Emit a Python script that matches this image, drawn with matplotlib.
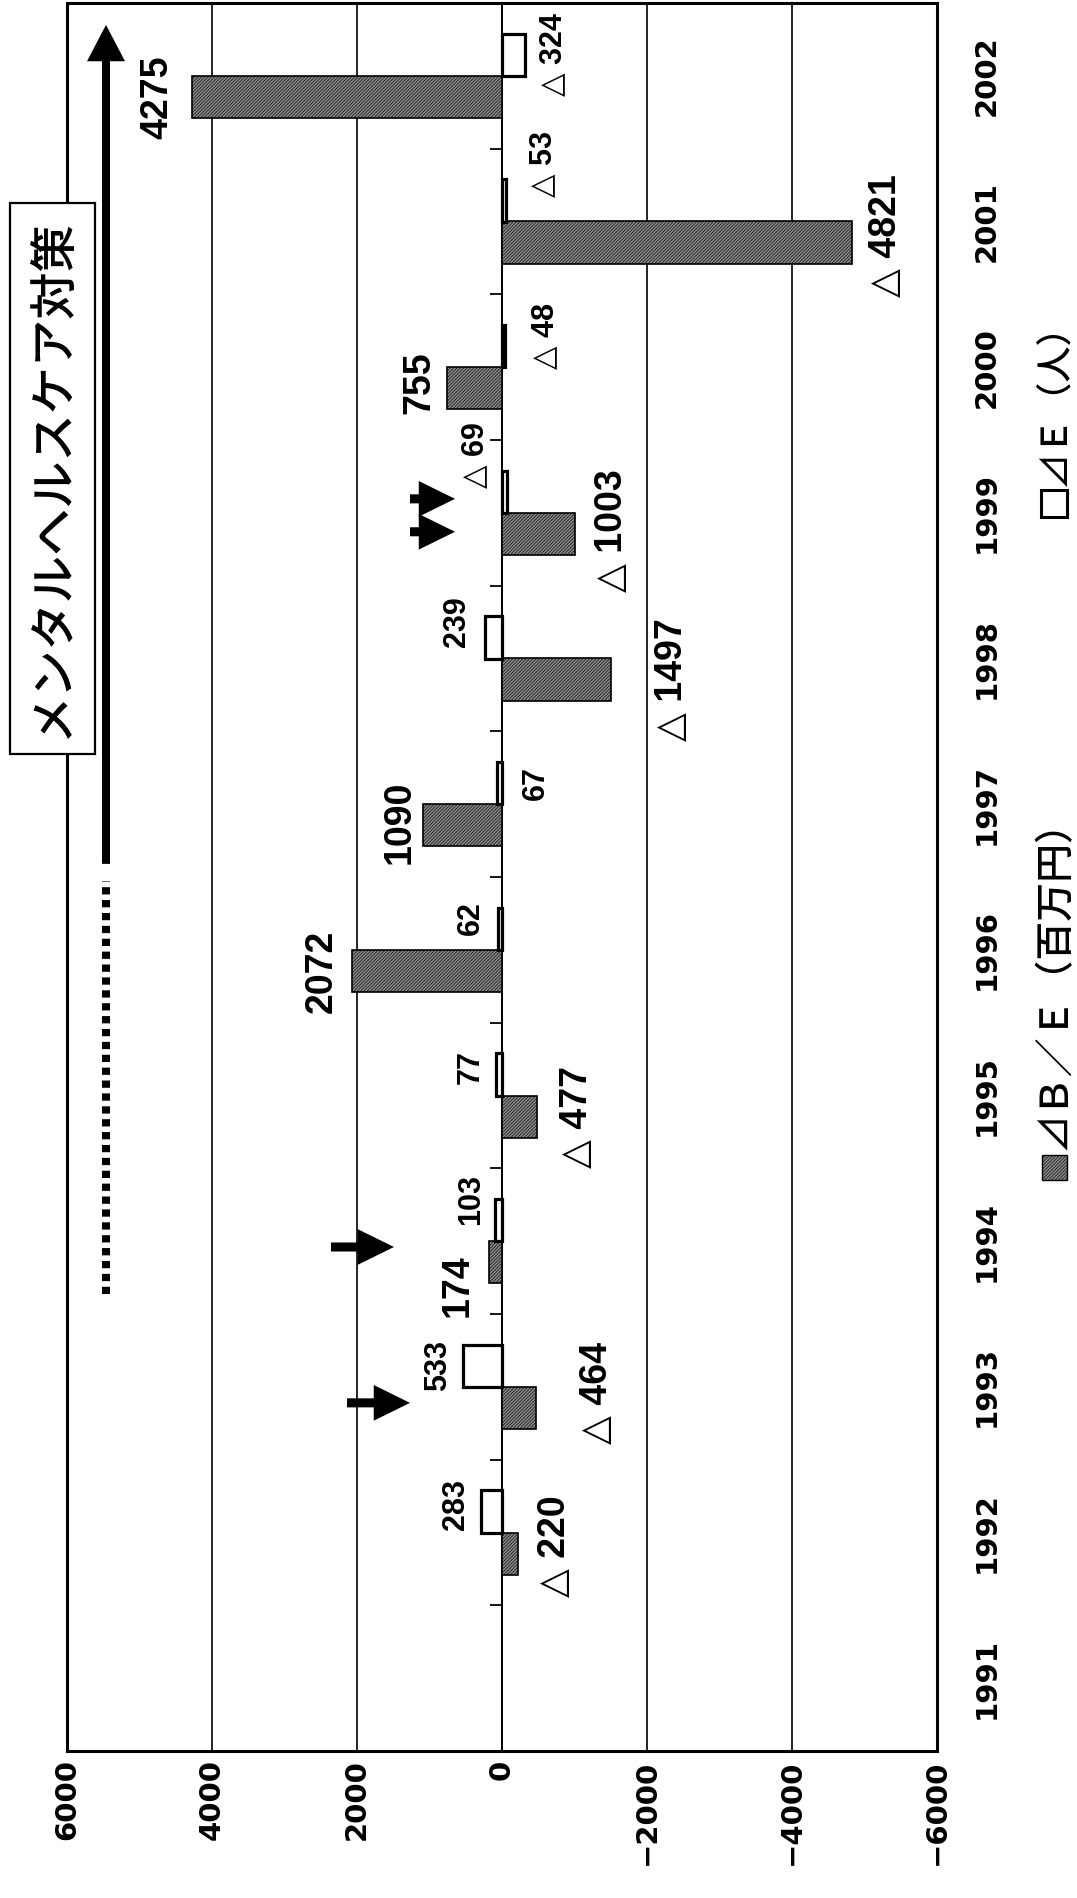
import numpy as np
import matplotlib
matplotlib.use("Agg")
import matplotlib.pyplot as plt
from matplotlib.patches import FancyArrow, Rectangle

# yearly change of B/E (million yen) and of E (persons); 1991 has no bars
years = [1991, 1992, 1993, 1994, 1995, 1996, 1997, 1998, 1999, 2000, 2001, 2002]
be_values = [-220, -464, 174, -477, 2072, 1090, -1497, -1003, 755, -4821, 4275]
e_values = [283, 533, 103, 77, 62, 67, 239, -69, -48, -53, -324]
value_ticks = [6000, 4000, 2000, 0, -2000, -4000, -6000]
legend_labels = ["⊿Ｂ／Ｅ（百万円）", "⊿Ｅ（人）"]
policy_text = "メンタルヘルスケア対策"

# label nudges (dx in value units, dy in category units) so they sit like the original
be_nudge = [(-511, 0.05), (-846, 0.10), (433, -0.16), (-557, 0.0), (411, 0.0), (317, 0.02),
            (-848, 0.0), (-514, 0.02), (390, 0.04), (-476, 0.045), (484, 0.0)]
e_nudge = [(351, 0.045), (350, 0.0), (325, 0.14), (351, 0.05), (366, 0.075), (-536, 0.0),
           (382, 0.105), (441, 0.25), (-545, 0.07), (-513, 0.25), (-379, 0.0)]

# block arrows marking events: (year, dy, tail, tip)
event_arrows = [(1993, -0.11, 2138, 1269), (1994, -0.04, 2359, 1490),
                (1999, 0.096, 1269, 648), (1999, -0.13, 1269, 648)]

W, H = 1077, 1898
fig = plt.figure(figsize=(W / 100, H / 100), dpi=100)


def fx(px):
    return px / W


def fy(py):
    return 1 - py / H


plt.rcParams["hatch.linewidth"] = 0.7
num_font = ["Liberation Sans", "DejaVu Sans"]
jp_font = ["Noto Sans CJK JP", "DejaVu Sans"]
bar_face = "#3a3a3a"
hatch_col = "#a0a0a0"
hatch = "/" * 10

ax = fig.add_axes([fx(67), fy(1751), fx(937) - fx(67), fy(3) - fy(1751)])
idx = np.arange(len(years))
pos = idx[1:]
bw = 0.29

ax.set_xlim(6000, -6000)
ax.set_ylim(-0.5, len(years) - 0.5)

# hatched B/E bars (dark face, light diagonal hatch, black outline)
ax.barh(pos - bw / 2, be_values, height=bw, color=bar_face, lw=0, zorder=2)
ax.barh(pos - bw / 2, be_values, height=bw, fill=False, hatch=hatch, edgecolor=hatch_col,
        lw=0, zorder=2)
ax.barh(pos - bw / 2, be_values, height=bw, fill=False, edgecolor="black", lw=1.2, zorder=2)
# white E bars
ax.barh(pos + bw / 2, e_values, height=bw, color="white", edgecolor="black", lw=2.3, zorder=3)

ax.set_xticks(value_ticks)
ax.set_xticklabels([str(v).replace("-", "\u2212") for v in value_ticks], rotation=90,
                   fontsize=21, fontweight="bold", family="DejaVu Sans")
ax.tick_params(axis="x", length=0, pad=6)
ax.grid(axis="x", color="black", lw=1.2)
ax.set_axisbelow(True)

ax.yaxis.tick_right()
ax.set_yticks(idx)
ax.set_yticklabels([str(y) for y in years], rotation=90, va="center",
                   fontsize=21, fontweight="bold", family="DejaVu Sans")
ax.tick_params(axis="y", length=0, pad=26)
for s in ax.spines.values():
    s.set_linewidth(2.2)
    s.set_color("black")

# category axis crossing at zero with ticks between years
zero_ax = ax.secondary_yaxis(0.5)
zero_ax.set_alignment("left")
zero_ax.set_yticks(idx[:-1] + 0.5)
zero_ax.set_yticklabels([])
zero_ax.tick_params(axis="y", direction="out", length=8.6, width=1.3)
zero_ax.spines["left"].set_linewidth(1.4)

# value labels
for p, v, (dx, dy) in zip(pos, be_values, be_nudge):
    txt = str(v) if v > 0 else "△ " + str(-v)
    ax.text(v + dx, p - bw / 2 + dy, txt, rotation=90, ha="center", va="center",
            fontsize=27, fontweight="bold", family=num_font, zorder=5)
for p, v, (dx, dy) in zip(pos, e_values, e_nudge):
    txt = str(v) if v > 0 else "△ " + str(-v)
    ax.text(v + dx, p + bw / 2 + dy, txt, rotation=90, ha="center", va="center",
            fontsize=22, fontweight="bold", family=num_font, zorder=5)

# event arrows
for yr, dy, tail, tip in event_arrows:
    yy = years.index(yr) + dy
    ax.add_patch(FancyArrow(tail, yy, tip - tail, 0, width=0.062, head_width=0.245,
                            head_length=500, length_includes_head=True,
                            color="black", lw=0, zorder=4))

# policy period arrow (dotted preparation, then solid arrow)
ax.add_patch(FancyArrow(5462, 5.59, 0, 5.76, width=110, head_width=524, head_length=0.25,
                        length_includes_head=True, color="black", lw=0, zorder=4))
ax.plot([5462, 5462], [2.64, 5.47], color="black", lw=5.8, linestyle=(0, (0.9, 0.7)),
        dash_capstyle="butt", zorder=4)

# callout box
fig.add_artist(Rectangle((fx(10), fy(754)), fx(95) - fx(10), fy(203) - fy(754),
                         transform=fig.transFigure, facecolor="white", edgecolor="black",
                         lw=1.6, zorder=5))
fig.text(fx(53), fy(478), policy_text, rotation=90, ha="center", va="center",
         fontsize=34, family=jp_font, fontweight="medium", zorder=6)

# legend
fig.add_artist(Rectangle((fx(1042), fy(1180)), fx(25), 25 / H, transform=fig.transFigure,
                         facecolor=bar_face, lw=0))
fig.add_artist(Rectangle((fx(1042), fy(1180)), fx(25), 25 / H, transform=fig.transFigure,
                         fill=False, edgecolor=hatch_col, hatch=hatch, lw=0))
fig.add_artist(Rectangle((fx(1042), fy(1180)), fx(25), 25 / H, transform=fig.transFigure,
                         fill=False, edgecolor="black", lw=1.0))
fig.text(fx(1055), fy(1150), legend_labels[0], rotation=90, ha="center", va="bottom",
         fontsize=28, family=jp_font, fontweight="medium")
fig.add_artist(Rectangle((fx(1041), fy(517)), fx(26), 27 / H, transform=fig.transFigure,
                         facecolor="white", edgecolor="black", lw=2.2))
fig.text(fx(1055), fy(486), legend_labels[1], rotation=90, ha="center", va="bottom",
         fontsize=26, family=jp_font, fontweight="medium")

fig.savefig("out.png", dpi=100)
